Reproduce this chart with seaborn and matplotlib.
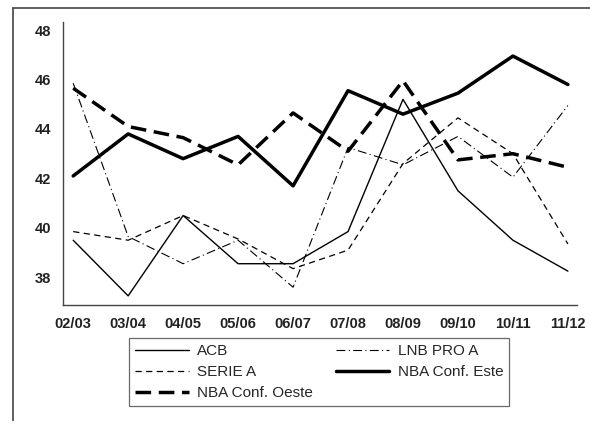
import matplotlib
matplotlib.use("Agg")
import matplotlib.pyplot as plt
from matplotlib.lines import Line2D
import seaborn as sns
import pandas as pd

seasons = ["02/03", "03/04", "04/05", "05/06", "06/07",
           "07/08", "08/09", "09/10", "10/11", "11/12"]
acb = [39.5, 37.25, 40.5, 38.55, 38.55, 39.85, 45.2, 41.5, 39.5, 38.25]
lnb_pro_a = [45.85, 39.65, 38.55, 39.5, 37.6, 43.25, 42.55, 43.7, 42.05, 44.95]
serie_a = [39.85, 39.5, 40.5, 39.55, 38.35, 39.1, 42.6, 44.45, 43.0, 39.35]
nba_este = [42.1, 43.8, 42.8, 43.7, 41.7, 45.55, 44.6, 45.45, 46.95, 45.8]
nba_oeste = [45.65, 44.1, 43.65, 42.55, 44.65, 43.1, 45.95, 42.75, 43.0, 42.45]
y_ticks = [38, 40, 42, 44, 46, 48]

sns.set_style("white")
plt.rcParams["font.family"] = ["Liberation Sans", "DejaVu Sans"]

fig = plt.figure(figsize=(5.9, 4.21), dpi=100)
ax = fig.add_axes([63.3 / 590, 1 - 305 / 421, (576.7 - 63.3) / 590, (305 - 21.7) / 421])

x = list(range(len(seasons)))
series = [
    ("ACB", acb, dict(lw=1.0, ls="-")),
    ("SERIE A", serie_a, dict(lw=0.9, ls=(0, (5, 3.5)))),
    ("NBA Conf. Oeste", nba_oeste, dict(lw=2.5, ls=(0, (4.5, 2.2)))),
    ("LNB PRO A", lnb_pro_a, dict(lw=0.8, ls=(0, (8, 3, 1, 3)))),
    ("NBA Conf. Este", nba_este, dict(lw=2.5, ls="-")),
]

for name, vals, style in series:
    df = pd.DataFrame({"season": x, "value": vals})
    sns.lineplot(data=df, x="season", y="value", ax=ax, color="black",
                 linewidth=style["lw"], linestyle=style["ls"], label=name,
                 legend=False)

ax.set_xlim(-0.18, 9.16)
ax.set_ylim(36.88, 48.34)
ax.set_xticks(x)
ax.set_xticklabels(seasons)
ax.set_yticks(y_ticks)
ax.set_yticklabels([str(t) for t in y_ticks])
ax.set_xlabel("")
ax.set_ylabel("")
for side in ["top", "right"]:
    ax.spines[side].set_visible(False)
for side in ["left", "bottom"]:
    ax.spines[side].set_color("#444444")
    ax.spines[side].set_linewidth(1.0)
ax.tick_params(axis="both", which="major", direction="out", length=6,
               width=0.9, color="#444444", labelsize=10.5, pad=3)
for lab in ax.get_xticklabels() + ax.get_yticklabels():
    lab.set_fontweight("bold")
    lab.set_color("#222222")

handles = [Line2D([], [], color="black", linewidth=s["lw"], linestyle=s["ls"])
           for _, _, s in series]
labels = [n for n, _, _ in series]
leg = fig.legend(handles, labels, ncol=2, loc="upper left",
                 bbox_to_anchor=(129 / 590, 1 - 338 / 421),
                 frameon=True, fancybox=False, edgecolor="#444444",
                 fontsize=11, handlelength=3.5, handletextpad=0.55,
                 columnspacing=1.5, labelspacing=0.45, borderpad=0.4,
                 borderaxespad=0)
leg.get_frame().set_linewidth(0.9)

# outer graph frame
fig.add_artist(Line2D([13 / 590, 13 / 590], [0, 1 - 7.5 / 421],
                      transform=fig.transFigure, color="#444444", lw=1.2))
fig.add_artist(Line2D([13 / 590, 1], [1 - 7.5 / 421, 1 - 7.5 / 421],
                      transform=fig.transFigure, color="#444444", lw=1.2))

fig.savefig("out.png", dpi=100)
